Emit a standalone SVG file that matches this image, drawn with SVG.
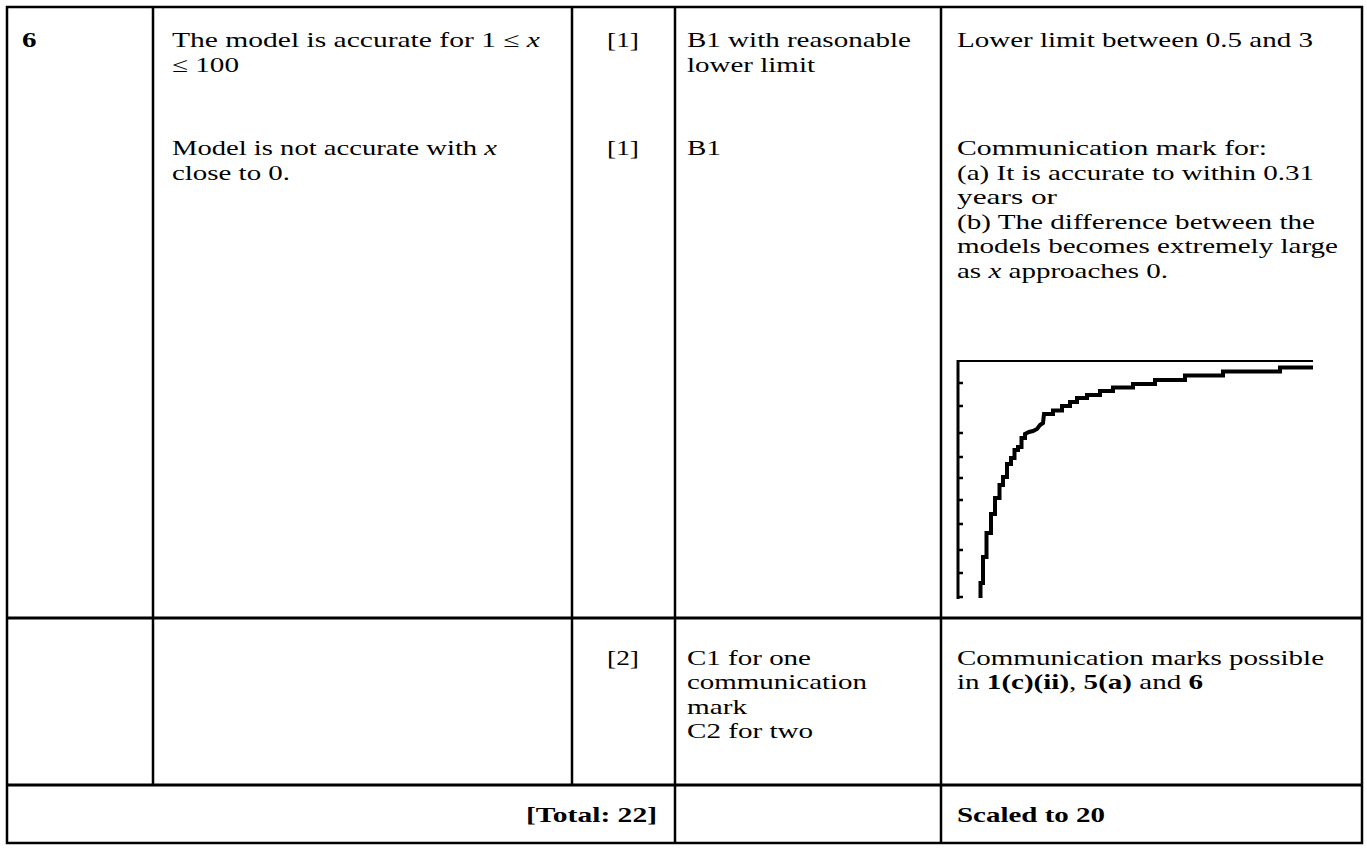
<svg xmlns="http://www.w3.org/2000/svg" width="1367" height="848" viewBox="0 0 1367 848">
<style>
text{font-family:"Liberation Serif","Tinos","Nimbus Roman","DejaVu Serif",serif;font-size:21px;fill:#000}
.b{font-weight:bold}
.i{font-style:italic}
.ln{stroke:#000;stroke-width:2.5;fill:none}
</style>
<defs>
<path id="tick" d="M0 0h5" stroke="#000" stroke-width="2.5"/>
</defs>
<rect x="0" y="0" width="1367" height="848" fill="#fff"/>
<g id="grid" class="ln">
<rect x="7" y="7" width="1355" height="836"/>
<line x1="153" y1="7" x2="153" y2="785"/>
<line x1="572" y1="7" x2="572" y2="785"/>
<line x1="675" y1="7" x2="675" y2="843"/>
<line x1="941" y1="7" x2="941" y2="843"/>
<line x1="7" y1="618" x2="1362" y2="618" stroke-width="3"/>
<line x1="7" y1="785" x2="1362" y2="785" stroke-width="3"/>
</g>
<g id="row1">
<text class="b" x="22" y="47" textLength="14.5" lengthAdjust="spacingAndGlyphs">6</text>
<text x="172" y="47" textLength="368" lengthAdjust="spacingAndGlyphs">The model is accurate for 1 ≤ <tspan class="i">x</tspan></text>
<text x="172" y="72" textLength="67" lengthAdjust="spacingAndGlyphs">≤ 100</text>
<text x="172" y="155" textLength="325" lengthAdjust="spacingAndGlyphs">Model is not accurate with <tspan class="i">x</tspan></text>
<text x="172" y="180" textLength="118" lengthAdjust="spacingAndGlyphs">close to 0.</text>
<text x="623" y="47" text-anchor="middle" textLength="32" lengthAdjust="spacingAndGlyphs">[1]</text>
<text x="623" y="155" text-anchor="middle" textLength="32" lengthAdjust="spacingAndGlyphs">[1]</text>
<text x="687" y="47" textLength="224" lengthAdjust="spacingAndGlyphs">B1 with reasonable</text>
<text x="687" y="72" textLength="128" lengthAdjust="spacingAndGlyphs">lower limit</text>
<text x="687" y="155" textLength="34" lengthAdjust="spacingAndGlyphs">B1</text>
<text x="957" y="47" textLength="356" lengthAdjust="spacingAndGlyphs">Lower limit between 0.5 and 3</text>
<text x="957" y="155" textLength="310" lengthAdjust="spacingAndGlyphs">Communication  mark for:</text>
<text x="957" y="180" textLength="357" lengthAdjust="spacingAndGlyphs">(a) It is accurate to within 0.31</text>
<text x="957" y="204" textLength="100" lengthAdjust="spacingAndGlyphs">years  or</text>
<text x="957" y="229" textLength="358" lengthAdjust="spacingAndGlyphs">(b) The difference between the</text>
<text x="957" y="253" textLength="381" lengthAdjust="spacingAndGlyphs">models becomes extremely large</text>
<text x="957" y="278" textLength="211" lengthAdjust="spacingAndGlyphs">as <tspan class="i">x</tspan> approaches 0.</text>
</g>
<g id="graph">
<line x1="957" y1="361" x2="1313" y2="361" stroke="#000" stroke-width="2"/>
<line x1="958" y1="360" x2="958" y2="599" stroke="#000" stroke-width="3"/>
<use href="#tick" x="958" y="383"/>
<use href="#tick" x="958" y="406"/>
<use href="#tick" x="958" y="433"/>
<use href="#tick" x="958" y="457"/>
<use href="#tick" x="958" y="478"/>
<use href="#tick" x="958" y="500"/>
<use href="#tick" x="958" y="524"/>
<use href="#tick" x="958" y="550"/>
<use href="#tick" x="958" y="573"/>
<use href="#tick" x="958" y="597"/>
<polyline fill="none" stroke="#000" stroke-width="4" stroke-linejoin="miter" points="980.5,598 980.5,583 983,583 983,557 986.5,557 986.5,533 991,533 991,514 995,514 995,498 999.5,498 999.5,485 1003,485 1003,477 1007,477 1007,464 1011,464 1011,458 1014.5,458 1014.5,450 1018,450 1018,447 1021.5,447 1021.5,438 1025,438 1025,434 1029,432 1033,431 1037,429 1040,425 1043,423 1044,414 1053,414 1053,410.5 1062,410.5 1062,406 1070,406 1070,402 1077,402 1077,398 1087,398 1087,395 1100,395 1100,391 1113,391 1113,387.5 1133,387.5 1133,384 1155,384 1155,380 1185,380 1185,375.5 1223,375.5 1223,371.5 1280,371.5 1280,367.5 1313,367.5"/>
</g>
<g id="row2">
<text x="623" y="665" text-anchor="middle" textLength="32" lengthAdjust="spacingAndGlyphs">[2]</text>
<text x="687" y="665" textLength="124" lengthAdjust="spacingAndGlyphs">C1 for one</text>
<text x="687" y="689" textLength="180" lengthAdjust="spacingAndGlyphs">communication</text>
<text x="687" y="714" textLength="60" lengthAdjust="spacingAndGlyphs">mark</text>
<text x="687" y="738" textLength="126" lengthAdjust="spacingAndGlyphs">C2 for two</text>
<text x="957" y="665" textLength="367" lengthAdjust="spacingAndGlyphs">Communication marks possible</text>
<text x="957" y="689" textLength="246" lengthAdjust="spacingAndGlyphs">in <tspan class="b">1(c)(ii)</tspan>, <tspan class="b">5(a)</tspan> and <tspan class="b">6</tspan></text>
</g>
<g id="row3">
<text class="b" x="657" y="822" text-anchor="end" textLength="131" lengthAdjust="spacingAndGlyphs">[Total: 22]</text>
<text class="b" x="957" y="822" textLength="148" lengthAdjust="spacingAndGlyphs">Scaled to 20</text>
</g>
</svg>
